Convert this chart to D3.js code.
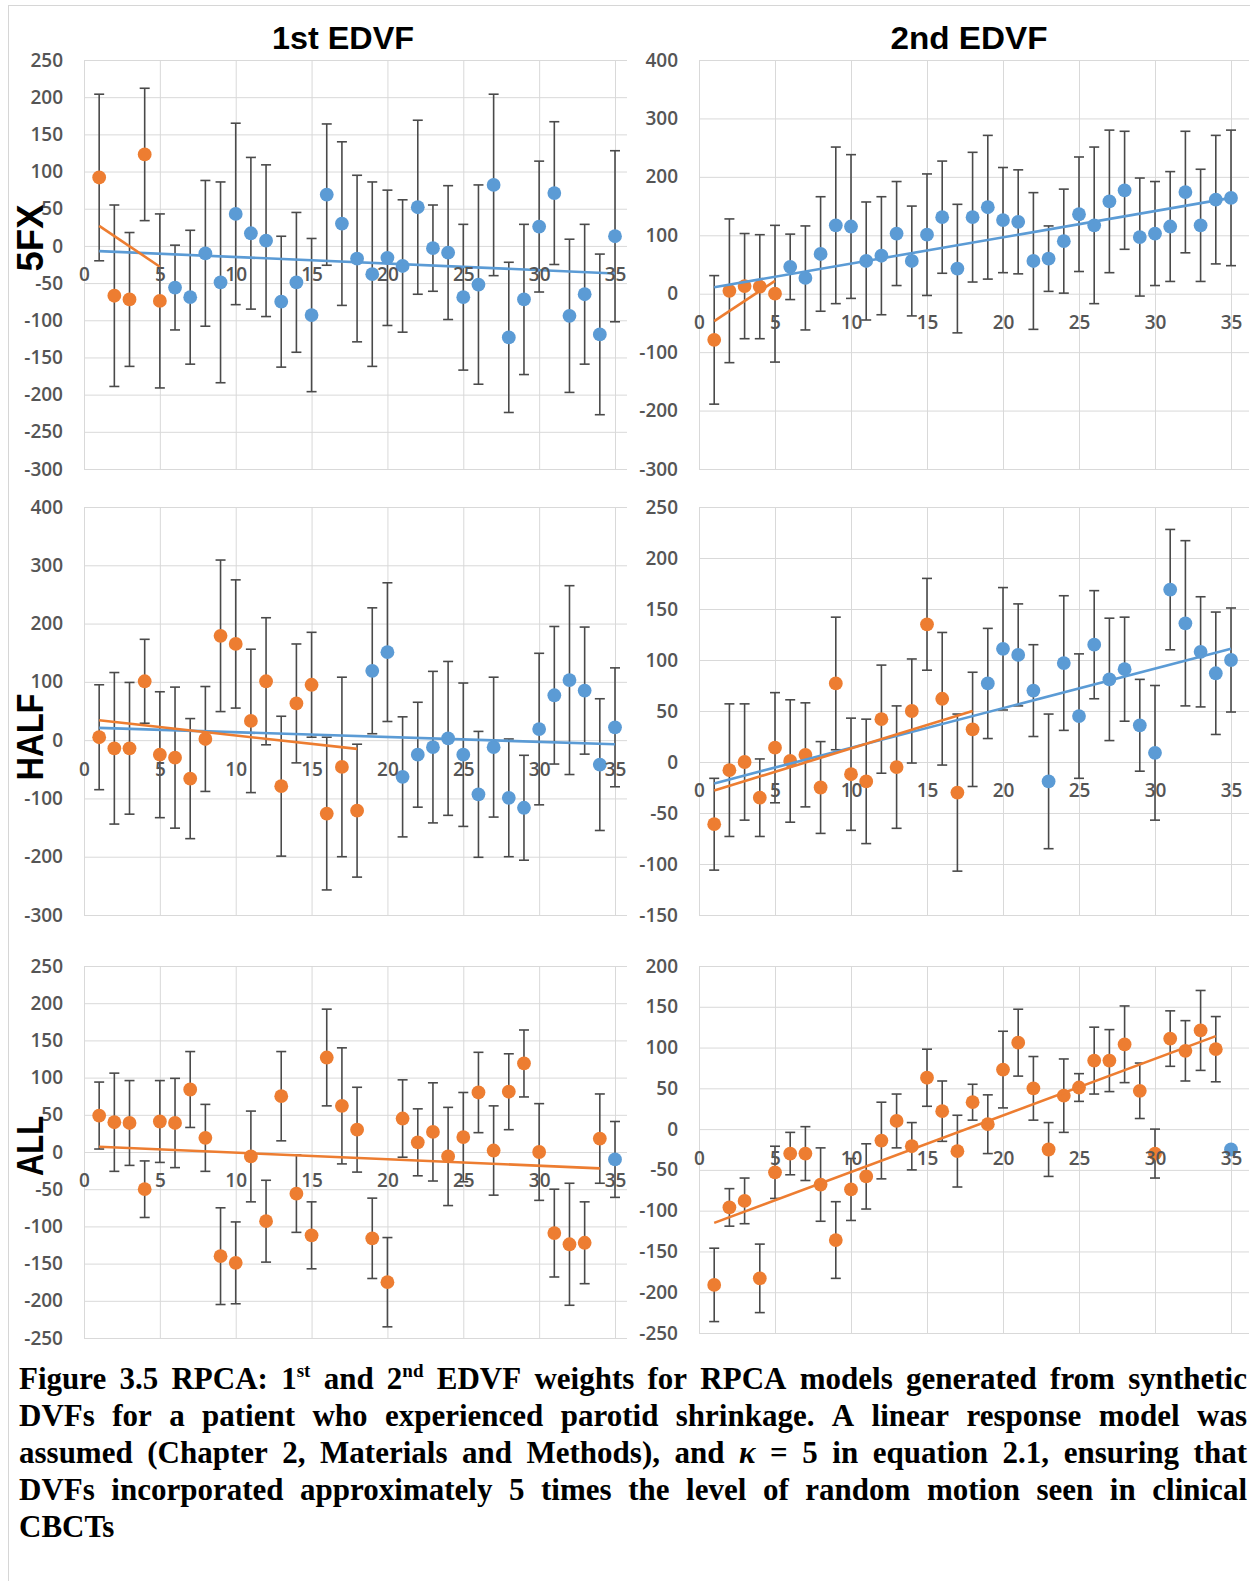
<!DOCTYPE html>
<html lang="en">
  <head>
    <meta charset="utf-8" />
    <title>RPCA: 1st and 2nd EDVF weights</title>
    <script src="https://cdn.jsdelivr.net/npm/d3@7"></script>
    <style>
      body { margin: 0; background: #fff; }
      svg { display: block; }
    </style>
  </head>
  <body>
    <script>
      //Width and height
      var w = 1250;
      var h = 1581;

      var orange = "#ED7D31";
      var blue = "#5B9BD5";
      var barColor = "#4a4a4a";

      //Frame numbers on the x axis
      var frames = [1, 2, 3, 4, 5, 6, 7, 8, 9, 10, 11, 12, 13, 14, 15, 16, 17, 18,
        19, 20, 21, 22, 23, 24, 25, 26, 27, 28, 29, 30, 31, 32, 33, 34, 35];
      var xTicks = [0, 5, 10, 15, 20, 25, 30, 35];

      //5FX
      var fx5First = [92, -67, -72, 123, -74, -56, -69, -10, -49, 43, 17, 7, -75, -49, -93, 69, 30, -17,
        -38, -16, -27, 52, -3, -9, -69, -52, 82, -123, -72, 26, 71, -94, -65, -119, 13];
      var fx5FirstErr = [112, 122, 90, 89, 117, 57, 90, 98, 135, 122, 102, 102, 88, 94, 103, 95, 110, 112,
        124, 91, 89, 117, 58, 90, 98, 134, 122, 101, 101, 88, 96, 103, 94, 108, 115];
      var fx5Second = [-79, 5, 13, 12, 0, 46, 27, 68, 117, 115, 56, 65, 103, 56, 101, 131, 43, 131,
        148, 126, 123, 56, 60, 90, 136, 117, 158, 177, 97, 103, 115, 174, 117, 161, 164];
      var fx5SecondErr = [110, 123, 90, 89, 117, 56, 89, 98, 134, 123, 101, 101, 89, 94, 104, 96, 110, 111,
        123, 90, 89, 117, 56, 89, 98, 134, 122, 101, 101, 89, 94, 104, 96, 110, 116];
      var fx5Orange = 5;

      //HALF
      var halfFirst = [5, -14, -14, 101, -25, -30, -66, 2, 179, 165, 33, 101, -79, 63, 95, -126, -46, -121,
        119, 151, -63, -25, -12, 3, -25, -93, -12, -99, -116, 19, 77, 103, 85, -42, 22];
      var halfFirstErr = [90, 130, 113, 72, 108, 121, 103, 90, 130, 110, 123, 109, 120, 102, 90, 131, 154, 114,
        108, 119, 103, 90, 130, 132, 123, 108, 120, 101, 90, 130, 118, 162, 109, 113, 102];
      var halfSecond = [-61, -8, 0, -35, 14, 1, 7, -25, 77, -12, -19, 42, -5, 50, 135, 62, -30, 32,
        77, 111, 105, 70, -19, 97, 45, 115, 81, 91, 36, 9, 169, 136, 108, 87, 100];
      var halfSecondErr = [45, 65, 57, 38, 54, 60, 51, 45, 65, 55, 61, 53, 60, 51, 45, 65, 77, 56,
        54, 60, 50, 45, 66, 66, 61, 53, 60, 51, 45, 66, 59, 81, 54, 60, 51];
      var halfOrange = 18;

      //ALL
      var allFirst = [49, 40, 39, -50, 41, 39, 84, 19, -140, -149, -6, -93, 75, -56, -112, 127, 62, 30,
        -116, -175, 45, 13, 27, -6, 20, 80, 2, 81, 119, 0, -109, -124, -122, 18, -10];
      var allFirstErr = [45, 66, 57, 38, 55, 60, 51, 45, 65, 55, 61, 55, 60, 52, 45, 65, 78, 57,
        54, 60, 52, 45, 66, 66, 60, 54, 60, 51, 45, 65, 59, 82, 55, 60, 51];
      var allSecond = [-191, -96, -88, -183, -53, -30, -30, -68, -136, -74, -58, -14, 10, -21, 63, 22, -27, 33,
        6, 73, 106, 50, -25, 41, 51, 84, 84, 104, 47, -30, 111, 96, 121, 98, -25];
      var allSecondErr = [45, 23, 28, 42, 32, 26, 33, 45, 47, 38, 40, 47, 33, 29, 35, 37, 44, 22,
        36, 47, 41, 39, 33, 45, 17, 41, 38, 47, 34, 30, 34, 37, 49, 40, null];
      var allOrange = 34;

      //Trendlines, [frame, weight] at both ends
      var trend5fxFirstOrange = [[1, 27], [5, -28]];
      var trend5fxFirstBlue = [[1, -7], [35, -37]];
      var trend5fxSecondOrange = [[1, -47], [5, 22]];
      var trend5fxSecondBlue = [[1, 11], [35, 164]];
      var trendHalfFirstOrange = [[1, 34], [18, -15]];
      var trendHalfFirstBlue = [[1, 21], [35, -7]];
      var trendHalfSecondOrange = [[1, -28], [18, 50]];
      var trendHalfSecondBlue = [[1, -21], [35, 111]];
      var trendAllFirstOrange = [[1, 7], [34, -22]];
      var trendAllSecondOrange = [[1, -115], [34, 114]];

      //Y tick labels
      var ticks5fxFirst = [250, 200, 150, 100, 50, 0, -50, -100, -150, -200, -250, -300];
      var ticks5fxSecond = [400, 300, 200, 100, 0, -100, -200, -300];
      var ticksHalfFirst = [400, 300, 200, 100, 0, -100, -200, -300];
      var ticksHalfSecond = [250, 200, 150, 100, 50, 0, -50, -100, -150];
      var ticksAllFirst = [250, 200, 150, 100, 50, 0, -50, -100, -150, -200, -250];
      var ticksAllSecond = [200, 150, 100, 50, 0, -50, -100, -150, -200, -250];

      var columnTitles = ["1st EDVF", "2nd EDVF"];
      var rowTitles = ["5FX", "HALF", "ALL"];

      var captionLines = [
        "Figure 3.5 RPCA: 1^st and 2^nd EDVF weights for RPCA models generated from synthetic",
        "DVFs for a patient who experienced parotid shrinkage. A linear response model was",
        "assumed (Chapter 2, Materials and Methods), and κ = 5 in equation 2.1, ensuring that",
        "DVFs incorporated approximately 5 times the level of random motion seen in clinical",
        "CBCTs"
      ];

      var tickFont = "'Open Sans', 'Liberation Sans', sans-serif";
      var plainNumber = function (d) { return String(d); };

      //Layout
      var colLeft = { x0: 84, x35: 615, right: 627 };
      var colRight = { x0: 699, x35: 1231, right: 1249 };

      var panels = [
        { col: colLeft, top: 60, bottom: 469, values: fx5First, err: fx5FirstErr, orange: fx5Orange,
          ticks: ticks5fxFirst, trends: [[trend5fxFirstBlue, blue], [trend5fxFirstOrange, orange]] },
        { col: colRight, top: 60, bottom: 469, values: fx5Second, err: fx5SecondErr, orange: fx5Orange,
          ticks: ticks5fxSecond, trends: [[trend5fxSecondBlue, blue], [trend5fxSecondOrange, orange]] },
        { col: colLeft, top: 507, bottom: 915, values: halfFirst, err: halfFirstErr, orange: halfOrange,
          ticks: ticksHalfFirst, trends: [[trendHalfFirstBlue, blue], [trendHalfFirstOrange, orange]] },
        { col: colRight, top: 507, bottom: 915, values: halfSecond, err: halfSecondErr, orange: halfOrange,
          ticks: ticksHalfSecond, trends: [[trendHalfSecondBlue, blue], [trendHalfSecondOrange, orange]] },
        { col: colLeft, top: 966, bottom: 1338, values: allFirst, err: allFirstErr, orange: allOrange,
          ticks: ticksAllFirst, trends: [[trendAllFirstOrange, orange]] },
        { col: colRight, top: 966, bottom: 1333, values: allSecond, err: allSecondErr, orange: allOrange,
          ticks: ticksAllSecond, trends: [[trendAllSecondOrange, orange]] }
      ];

      //Create SVG element
      var svg = d3
        .select("body")
        .append("svg")
        .attr("width", w)
        .attr("height", h);

      svg.append("rect")
        .attr("x", 8.5)
        .attr("y", 5.5)
        .attr("width", 1260)
        .attr("height", 1600)
        .attr("fill", "none")
        .attr("stroke", "#d6d6d6");

      panels.forEach(drawPanel);

      function drawPanel(p) {
        var g = svg.append("g");
        var x = d3.scaleLinear().domain([0, 35]).range([p.col.x0, p.col.x35]);
        var y = d3.scaleLinear().domain(d3.extent(p.ticks)).range([p.bottom, p.top]);

        //horizontal gridlines + y labels
        var yAxis = g.append("g")
          .attr("transform", "translate(" + p.col.x0 + ",0)")
          .call(d3.axisLeft(y)
            .tickValues(p.ticks)
            .tickFormat(plainNumber)
            .tickSize(-(p.col.right - p.col.x0))
            .tickPadding(21));
        yAxis.select(".domain").remove();
        yAxis.selectAll("line").attr("stroke", "#d9d9d9");
        yAxis.selectAll("text")
          .attr("font-family", tickFont)
          .attr("font-size", "19px")
          .attr("font-weight", 600)
          .attr("fill", "#555");

        //vertical gridlines
        var xGrid = g.append("g")
          .attr("transform", "translate(0," + p.bottom + ")")
          .call(d3.axisBottom(x).tickValues(xTicks).tickSize(-(p.bottom - p.top)).tickFormat(""));
        xGrid.select(".domain").remove();
        xGrid.selectAll("line").attr("stroke", "#d9d9d9");

        var points = frames.map(function (f, i) {
          return { f: f, v: p.values[i], e: p.err[i], c: i < p.orange ? orange : blue };
        });
        var withBars = points.filter(function (d) { return d.e != null; });

        //error bars
        var bars = g.append("g")
          .attr("stroke", barColor)
          .attr("stroke-width", 1.6);
        bars.selectAll(".stem")
          .data(withBars)
          .enter()
          .append("line")
          .attr("x1", function (d) { return x(d.f); })
          .attr("x2", function (d) { return x(d.f); })
          .attr("y1", function (d) { return y(d.v + d.e); })
          .attr("y2", function (d) { return y(d.v - d.e); });
        [1, -1].forEach(function (s) {
          bars.selectAll(".cap" + s)
            .data(withBars)
            .enter()
            .append("line")
            .attr("x1", function (d) { return x(d.f) - 5; })
            .attr("x2", function (d) { return x(d.f) + 5; })
            .attr("y1", function (d) { return y(d.v + s * d.e); })
            .attr("y2", function (d) { return y(d.v + s * d.e); });
        });

        //markers
        g.selectAll("circle")
          .data(points)
          .enter()
          .append("circle")
          .attr("cx", function (d) { return x(d.f); })
          .attr("cy", function (d) { return y(d.v); })
          .attr("r", 6.9)
          .attr("fill", function (d) { return d.c; });

        //trendlines
        var line = d3.line()
          .x(function (d) { return x(d[0]); })
          .y(function (d) { return y(d[1]); });
        p.trends.forEach(function (t) {
          g.append("path")
            .attr("d", line(t[0]))
            .attr("fill", "none")
            .attr("stroke", t[1])
            .attr("stroke-width", 2.6);
        });

        //x labels at the zero line
        var xAxis = g.append("g")
          .attr("transform", "translate(0," + y(0) + ")")
          .call(d3.axisBottom(x).tickValues(xTicks).tickFormat(plainNumber).tickSize(0).tickPadding(22));
        xAxis.select(".domain").remove();
        xAxis.selectAll("text")
          .attr("font-family", tickFont)
          .attr("font-size", "19px")
          .attr("font-weight", 600)
          .attr("fill", "#555");
      }

      //Column titles
      svg.selectAll(".coltitle")
        .data(columnTitles)
        .enter()
        .append("text")
        .attr("x", function (d, i) { return i === 0 ? 343 : 969; })
        .attr("y", 49)
        .attr("text-anchor", "middle")
        .attr("font-family", "'Liberation Sans', Arial, sans-serif")
        .attr("font-weight", "bold")
        .attr("font-size", "32px")
        .attr("textLength", function (d, i) { return i === 0 ? 142 : 157; })
        .attr("lengthAdjust", "spacingAndGlyphs")
        .attr("fill", "#000")
        .text(function (d) { return d; });

      //Row titles
      var rowCenters = [238, 737, 1146];
      var rowLengths = [67, 87, 60];
      svg.selectAll(".rowtitle")
        .data(rowTitles)
        .enter()
        .append("text")
        .attr("transform", function (d, i) { return "translate(43," + rowCenters[i] + ") rotate(-90)"; })
        .attr("text-anchor", "middle")
        .attr("font-family", "'Liberation Sans', Arial, sans-serif")
        .attr("font-weight", "bold")
        .attr("font-size", "37px")
        .attr("textLength", function (d, i) { return rowLengths[i]; })
        .attr("lengthAdjust", "spacingAndGlyphs")
        .attr("fill", "#000")
        .text(function (d) { return d; });

      //Caption, justified line by line
      var capX0 = 19;
      var capX1 = 1247;
      var capG = svg.append("g")
        .attr("font-family", "'Liberation Serif', 'Times New Roman', serif")
        .attr("font-weight", "bold")
        .attr("font-size", "31px")
        .attr("fill", "#000");

      captionLines.forEach(function (str, li) {
        var yy = 1389 + li * 37;
        var words = str.split(" ");
        var nodes = words.map(function (wd) {
          var t = capG.append("text").attr("y", yy);
          var parts = wd.split("^");
          var base = t.append("tspan").text(parts[0]);
          if (parts[0] === "κ") base.attr("font-style", "italic");
          if (parts.length > 1) {
            t.append("tspan")
              .attr("font-size", "19px")
              .attr("dy", -12)
              .text(parts[1]);
          }
          return t;
        });
        var widths = nodes.map(function (t) { return t.node().getComputedTextLength(); });
        var total = d3.sum(widths);
        var justify = li < captionLines.length - 1;
        var gap = justify ? (capX1 - capX0 - total) / (nodes.length - 1) : 8;
        var cx = capX0;
        nodes.forEach(function (t, i) {
          t.attr("x", cx);
          t.selectAll("tspan").filter(function (d, j) { return j === 0; }).attr("x", cx);
          cx += widths[i] + gap;
        });
      });
    </script>
  </body>
</html>
